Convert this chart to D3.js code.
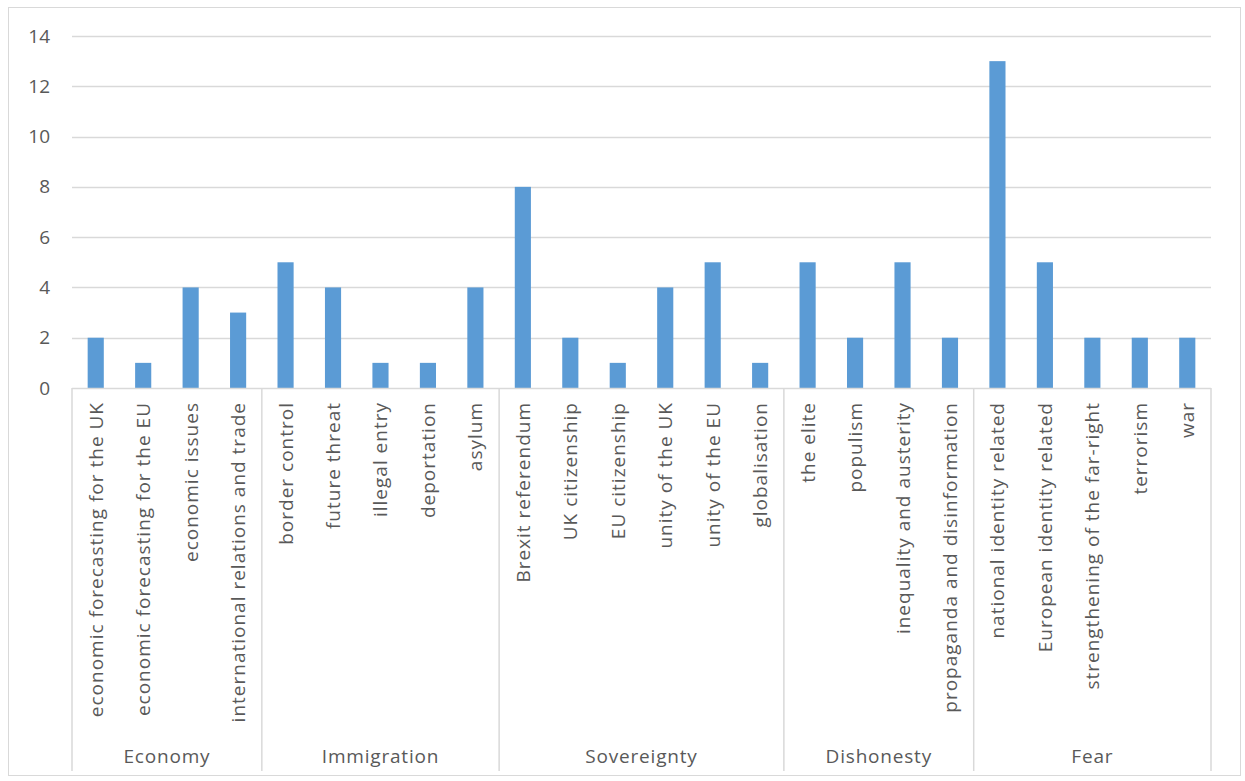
<!DOCTYPE html>
<html>
<head>
<meta charset="utf-8">
<script src="https://cdn.jsdelivr.net/npm/d3@7"></script>
<style>
  html, body { margin: 0; padding: 0; background: #fff; }
  svg text { font-family: "Open Sans", "Liberation Sans", sans-serif; fill: #595959; }
</style>
</head>
<body>
<svg id="chart" width="1245" height="781"></svg>
<script>
// Topic groups and the number of mentions per topic
const groups = ["Economy", "Immigration", "Sovereignty", "Dishonesty", "Fear"];
const groupSizes = [4, 5, 6, 4, 5];
const categories = [
  "economic forecasting for the UK", "economic forecasting for the EU", "economic issues", "international relations and trade",
  "border control", "future threat", "illegal entry", "deportation", "asylum",
  "Brexit referendum", "UK citizenship", "EU citizenship", "unity of the UK", "unity of the EU", "globalisation",
  "the elite", "populism", "inequality and austerity", "propaganda and disinformation",
  "national identity related", "European identity related", "strengthening of the far-right", "terrorism", "war"
];
const values = [2, 1, 4, 3, 5, 4, 1, 1, 4, 8, 2, 1, 4, 5, 1, 5, 2, 5, 2, 13, 5, 2, 2, 2];
const yTicks = [0, 2, 4, 6, 8, 10, 12, 14];

const svg = d3.select("#chart");
const plotLeft = 72, plotRight = 1211, plotTop = 36, plotBase = 388, axisBottom = 771;

// Outer chart frame
svg.append("rect")
  .attr("x", 8.5).attr("y", 7.5).attr("width", 1232).attr("height", 768)
  .attr("fill", "#fff").attr("stroke", "#D9D9D9");

const x = d3.scaleBand().domain(categories).range([plotLeft, plotRight]).padding(0);
const y = d3.scaleLinear().domain([0, 14]).range([plotBase, plotTop]);

// Horizontal gridlines
svg.append("g").selectAll("line").data(yTicks.filter(t => t > 0)).join("line")
  .attr("x1", plotLeft).attr("x2", plotRight)
  .attr("y1", d => Math.round(y(d)) + 0.5).attr("y2", d => Math.round(y(d)) + 0.5)
  .attr("stroke", "#D9D9D9").attr("stroke-width", 1.5);

// Y axis labels
const yAxis = d3.axisLeft(y).tickValues(yTicks).tickSize(0).tickPadding(22);
const yg = svg.append("g").attr("transform", `translate(${plotLeft},0)`).call(yAxis);
yg.select(".domain").remove();
yg.attr("font-family", null).attr("font-size", null);
yg.selectAll("text").attr("font-size", 19).attr("fill", "#595959");

// Bars
const barW = x.bandwidth() * 0.34;
svg.append("g").selectAll("rect").data(categories).join("rect")
  .attr("x", (d) => x(d) + (x.bandwidth() - barW) / 2)
  .attr("width", barW)
  .attr("y", (d, i) => y(values[i]))
  .attr("height", (d, i) => y(0) - y(values[i]))
  .attr("fill", "#5B9BD5");

// Category axis baseline
svg.append("line")
  .attr("x1", plotLeft).attr("x2", plotRight).attr("y1", plotBase + 0.5).attr("y2", plotBase + 0.5)
  .attr("stroke", "#D9D9D9").attr("stroke-width", 1.5);

// Group boundaries
const starts = [0];
groupSizes.forEach((n, i) => starts.push(starts[i] + n));
const edgeX = i => i < categories.length ? x(categories[i]) : plotRight;
svg.append("g").selectAll("line").data(starts).join("line")
  .attr("x1", edgeX).attr("x2", edgeX)
  .attr("y1", plotBase).attr("y2", axisBottom)
  .attr("stroke", "#D9D9D9").attr("stroke-width", 1.5);

// Rotated category labels
svg.append("g").selectAll("text").data(categories).join("text")
  .attr("transform", d => `translate(${x(d) + x.bandwidth() / 2 + 7},${plotBase + 14}) rotate(-90)`)
  .attr("text-anchor", "end")
  .attr("font-size", 19)
  .attr("letter-spacing", 1)
  .text(d => d);

// Group labels
svg.append("g").selectAll("text").data(groups).join("text")
  .attr("x", (g, i) => (edgeX(starts[i]) + edgeX(starts[i + 1])) / 2)
  .attr("y", 763)
  .attr("text-anchor", "middle")
  .attr("font-size", 19)
  .attr("letter-spacing", 0.8)
  .text(g => g);
</script>
</body>
</html>
